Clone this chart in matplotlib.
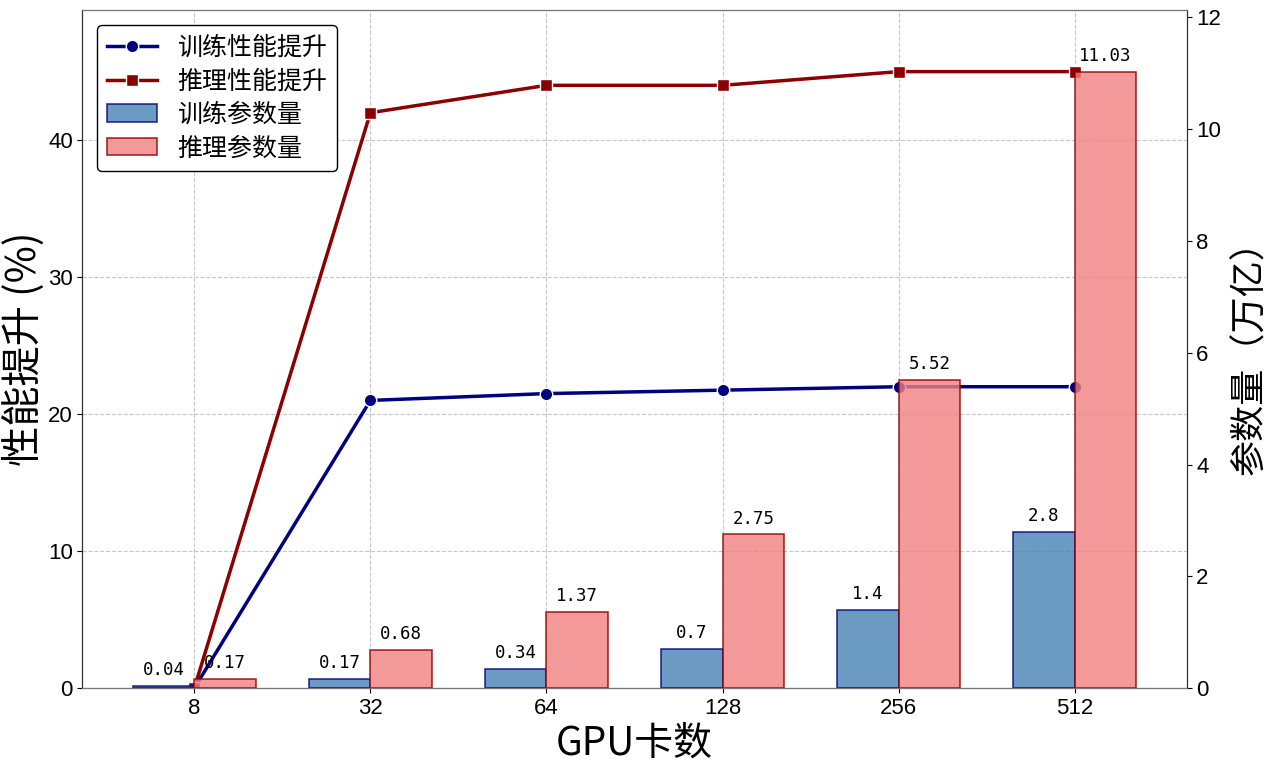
import matplotlib
matplotlib.use('Agg')
import matplotlib.pyplot as plt
import numpy as np

plt.rcParams['font.family'] = ['Noto Sans CJK SC', 'DejaVu Sans']
plt.rcParams['axes.unicode_minus'] = False

# 数据
gpus = ['8', '32', '64', '128', '256', '512']
train_perf = [0, 21, 21.5, 21.75, 22, 22]
infer_perf = [0, 42, 44, 44, 45, 45]
train_params = [0.04, 0.17, 0.34, 0.7, 1.4, 2.8]
infer_params = [0.17, 0.68, 1.37, 2.75, 5.52, 11.03]

x = np.arange(len(gpus))
width = 0.35

fig = plt.figure(figsize=(12.69, 7.68), dpi=100)
ax1 = fig.add_axes([0.065, 0.104, 0.870, 0.883])
ax2 = ax1.twinx()

# 性能提升折线（左轴）
l1, = ax1.plot(x, train_perf, color='navy', linewidth=2.5, marker='o', markersize=9,
               markeredgecolor='white', markeredgewidth=1, label='训练性能提升')
l2, = ax1.plot(x, infer_perf, color='darkred', linewidth=2.5, marker='s', markersize=9,
               markeredgecolor='white', markeredgewidth=1, label='推理性能提升')

# 参数量柱状图（右轴）
b1 = ax2.bar(x - width / 2, train_params, width, color='steelblue', alpha=0.8,
             edgecolor='navy', linewidth=1.2, label='训练参数量')
b2 = ax2.bar(x + width / 2, infer_params, width, color='lightcoral', alpha=0.8,
             edgecolor='darkred', linewidth=1.2, label='推理参数量')

mono = ['DejaVu Sans Mono', 'DejaVu Sans']
for rect, v in zip(b1, train_params):
    ax2.text(rect.get_x() + rect.get_width() / 2, rect.get_height() + 0.12, f'{v:g}',
             ha='center', va='bottom', fontsize=12.5, family=mono)
for rect, v in zip(b2, infer_params):
    ax2.text(rect.get_x() + rect.get_width() / 2, rect.get_height() + 0.12, f'{v:g}',
             ha='center', va='bottom', fontsize=12.5, family=mono)

ax1.set_ylim(0, 49.5)
ax2.set_ylim(0, max(infer_params) * 1.1)
ax1.set_xlim(-0.635, 5.635)
ax1.set_xticks(x)
ax1.set_xticklabels(gpus)
ax1.set_yticks([0, 10, 20, 30, 40])
ax2.set_yticks([0, 2, 4, 6, 8, 10, 12])

for ax in (ax1, ax2):
    ax.tick_params(labelsize=16)
    for lab in ax.get_xticklabels() + ax.get_yticklabels():
        lab.set_family(['Liberation Sans', 'DejaVu Sans'])

ax1.set_xlabel('GPU卡数', fontsize=28, labelpad=4,
               family=['Liberation Sans Narrow', 'Noto Sans CJK SC', 'DejaVu Sans'])
ax1.set_ylabel('性能提升 (%)', fontsize=29, labelpad=2)
ax2.set_ylabel('参数量（万亿）', fontsize=26, labelpad=8)

ax1.grid(True, linestyle='--', alpha=0.7, color='#b0b0b0')
ax2.grid(False)
for sp in ax2.spines.values():
    sp.set_color('#333333')
ax2.spines['top'].set_color('#777777')
ax2.spines['bottom'].set_color('#777777')

ax1.legend([l1, l2, b1, b2], ['训练性能提升', '推理性能提升', '训练参数量', '推理参数量'],
           loc='upper left', fontsize=18, labelspacing=0.3, edgecolor='black',
           framealpha=1, borderaxespad=0.6)

plt.savefig('out.png', dpi=100)
plt.close()
